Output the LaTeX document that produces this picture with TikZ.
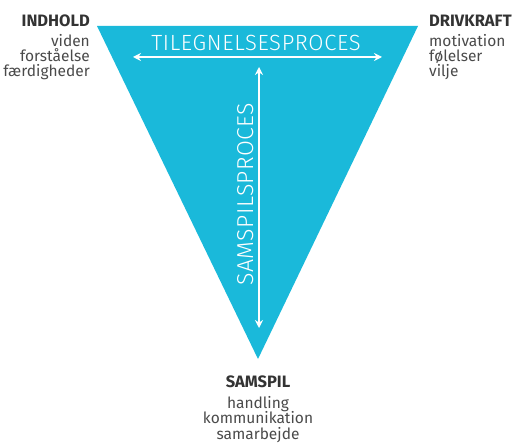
\documentclass[tikz,border=0pt]{standalone}
\usepackage{fontspec}
\setmainfont{Fira Sans}
\newfontfamily\lightfont{Fira Sans Light}
\usetikzlibrary{arrows.meta}
\definecolor{tri}{HTML}{1AB9DA}
\definecolor{head}{HTML}{333333}
\definecolor{body}{HTML}{4A4A4A}
\tikzset{
  lbl/.style={inner sep=0pt, font=\fontsize{15.5}{15.5}\selectfont, text=body},
  hd/.style={inner sep=0pt, font=\fontsize{16.5}{16.5}\selectfont\bfseries, text=head},
  warr/.style={draw=white, line width=1.2pt, {Stealth[length=8pt,width=8pt]}-{Stealth[length=8pt,width=8pt]}},
  wtxt/.style={text=white, inner sep=0pt}
}
\begin{document}
\begin{tikzpicture}[x=1pt,y=-1pt]
\useasboundingbox (0,0) rectangle (516,443);
\fill[tri] (97,26) coordinate (tl) -- (418,26) coordinate (tr) -- (258,359) coordinate (bt) -- cycle;
% horizontal arrow
\coordinate (hl) at (133,57);
\coordinate (hr) at (382,57);
\draw[warr] (hl) -- (hr);
\node[wtxt, anchor=base, font=\fontsize{22}{22}\lightfont\addfontfeatures{LetterSpace=3}] (tp) at (256,51) {TILEGNELSESPROCES};
% vertical arrow
\coordinate (vt) at (259,67);
\coordinate (vb) at (259,328);
\draw[warr] (vt) -- (vb);
\node[wtxt, rotate=90, anchor=base, font=\fontsize{23}{23}\lightfont\addfontfeatures{LetterSpace=2}] (sp) at (253,194) {SAMSPILSPROCES};
% INDHOLD
\node[hd, anchor=base east] (ind) at (90,27) {INDHOLD};
\node[lbl, anchor=base east] (ind1) at (90,47) {viden};
\node[lbl, anchor=base east] (ind2) at (90,62) {forståelse};
\node[lbl, anchor=base east] (ind3) at (90,77) {færdigheder};
% DRIVKRAFT
\node[hd, anchor=base west] (drv) at (429,27) {DRIVKRAFT};
\node[lbl, anchor=base west] (drv1) at (429,47) {motivation};
\node[lbl, anchor=base west] (drv2) at (429,62) {følelser};
\node[lbl, anchor=base west] (drv3) at (429,77) {vilje};
% SAMSPIL
\node[hd, anchor=base] (sam) at (258,387) {SAMSPIL};
\node[lbl, anchor=base] (sam1) at (258,408) {handling};
\node[lbl, anchor=base] (sam2) at (258,423.5) {kommunikation};
\node[lbl, anchor=base] (sam3) at (258,439) {samarbejde};
\end{tikzpicture}
\end{document}
